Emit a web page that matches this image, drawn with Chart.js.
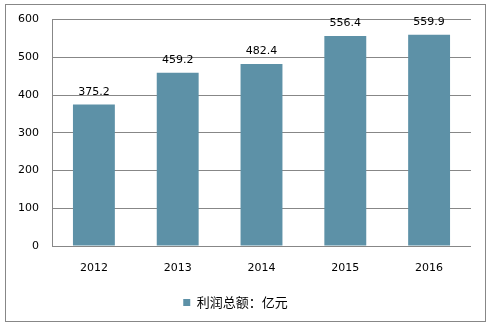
<!DOCTYPE html>
<html>
<head>
<meta charset="utf-8">
<script src="https://cdn.jsdelivr.net/npm/chart.js@4"></script>
<style>
  html, body { margin: 0; padding: 0; background: #fff; }
  #caja { width: 493px; height: 327px; position: relative; }
</style>
</head>
<body>
<div id="caja"><canvas id="myChart" width="493" height="327"></canvas></div>
<script>
// datos del grafico
const anios = ["2012", "2013", "2014", "2015", "2016"]
const valores = [375.2, 459.2, 482.4, 556.4, 559.9]
const nombreSerie = "利润总额：亿元"
const ticksY = [0, 100, 200, 300, 400, 500, 600]

const fuenteNum = "'DejaVu Sans', Verdana, sans-serif"
const fuenteCJK = "'Noto Sans CJK SC', sans-serif"

// marco gris alrededor del grafico
const marco = {
    id: "marco",
    beforeDraw(chart) {
        const ctx = chart.ctx
        ctx.save()
        ctx.fillStyle = "#fff"
        ctx.fillRect(0, 0, chart.width, chart.height)
        ctx.strokeStyle = "#878787"
        ctx.lineWidth = 1
        ctx.strokeRect(5.5, 4.5, 480, 317)
        ctx.restore()
    }
}

// etiquetas encima de las barras
const etiquetas = {
    id: "etiquetas",
    afterDatasetsDraw(chart) {
        const ctx = chart.ctx
        const meta = chart.getDatasetMeta(0)
        ctx.save()
        ctx.font = "11px " + fuenteNum
        ctx.fillStyle = "#000"
        ctx.textAlign = "center"
        ctx.textBaseline = "bottom"
        meta.data.forEach((barra, i) => {
            ctx.fillText(valores[i].toFixed(1), barra.x, barra.y - 7)
        })
        ctx.restore()
    }
}

const ctx = document.getElementById("myChart")

new Chart(ctx, {
    type: "bar",
    data: {
        labels: anios,
        datasets: [{
            label: nombreSerie,
            data: valores,
            backgroundColor: "#5d91a7",
            borderWidth: 0,
            barPercentage: 0.5,
            categoryPercentage: 1
        }]
    },
    options: {
        responsive: false,
        animation: false,
        layout: { padding: { left: 0, top: 18, right: 22, bottom: 8 } },
        plugins: {
            tooltip: { enabled: false },
            legend: {
                position: "bottom",
                labels: {
                    boxWidth: 7,
                    boxHeight: 7,
                    padding: 10,
                    color: "#000",
                    font: { family: fuenteCJK, size: 13 }
                }
            }
        },
        scales: {
            x: {
                grid: { display: false, drawTicks: false },
                border: { display: false },
                ticks: { color: "#000", padding: 16, font: { family: fuenteNum, size: 11 } },
                afterFit(s) { s.height = 40 }
            },
            y: {
                min: 0,
                max: 600,
                afterBuildTicks(s) { s.ticks = ticksY.map(v => ({ value: v })) },
                grid: { color: "#878787", drawTicks: false },
                border: { display: true, color: "#878787" },
                ticks: { color: "#000", padding: 13, font: { family: fuenteNum, size: 11 } },
                afterFit(s) { s.width = 52 }
            }
        }
    },
    plugins: [marco, etiquetas]
})
</script>
</body>
</html>
